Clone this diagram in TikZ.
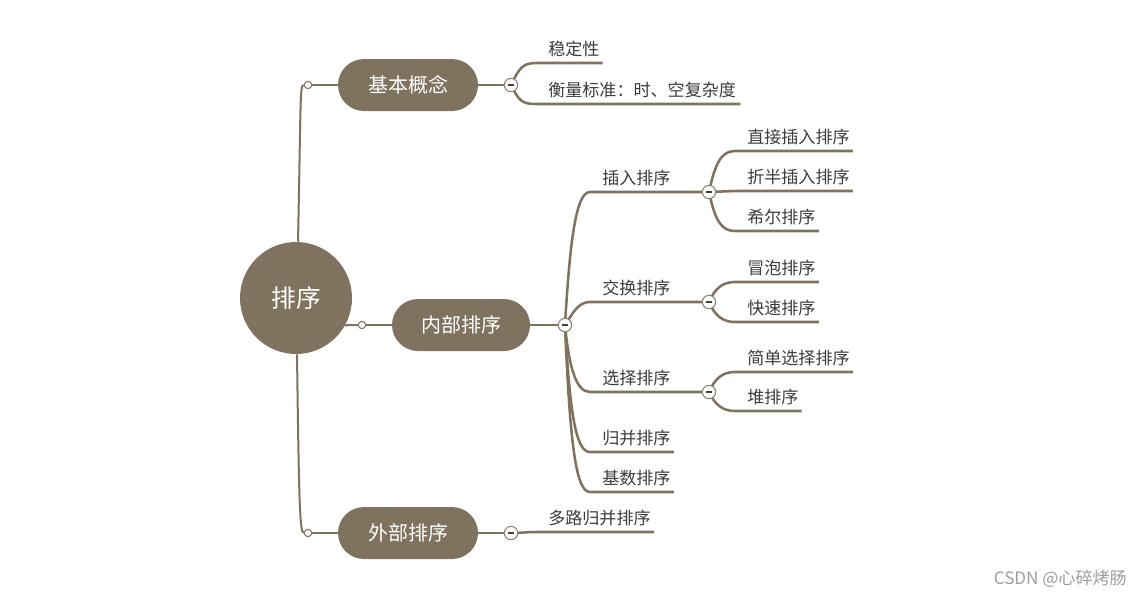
\documentclass[tikz,border=0pt]{standalone}
\usepackage{fontspec}
\setmainfont{Noto Sans CJK SC}
\usetikzlibrary{calc,backgrounds}
\definecolor{brn}{HTML}{7F7360}
\definecolor{txt}{HTML}{3C3C3C}
\definecolor{mb}{HTML}{8C8272}
\tikzset{
  rootnode/.style={circle,fill=brn,text=white,minimum size=84pt,inner sep=0pt,font=\fontsize{18.5pt}{20pt}\selectfont},
  topic/.style={rectangle,rounded corners=19.5pt,fill=brn,text=white,minimum width=105pt,minimum height=39pt,inner sep=0pt,font=\fontsize{15pt}{17pt}\selectfont},
  dot/.style={circle,draw=brn,fill=white,line width=0.8pt,minimum size=5.5pt,inner sep=0pt},
  minus/.style={circle,draw=mb,fill=white,line width=0.8pt,minimum size=10pt,inner sep=0pt,
    path picture={\draw[line width=1.2pt,black!75] ([xshift=-2.6pt]path picture bounding box.center) -- ([xshift=2.6pt]path picture bounding box.center);}},
  leaf/.style={anchor=base west,inner sep=0pt,text=txt,font=\fontsize{12.8pt}{14pt}\selectfont},
  conn/.style={draw=brn,line width=1.5pt},
  ul/.style={draw=brn,line width=1.9pt},
}
\begin{document}
\begin{tikzpicture}[x=0.75pt,y=-0.75pt]
\useasboundingbox (0,0) rectangle (1140,597);
% main nodes
\node[rootnode] (root) at (296,298) {排序};
\node[topic] (b1) at (408,85) {基本概念};
\node[topic,minimum width=103.5pt] (b2) at (461,325) {内部排序};
\node[topic] (b3) at (408,533) {外部排序};
\node[dot] (d1) at (308,85) {};
\node[dot] (d2) at (362,325) {};
\node[dot] (d3) at (308,533) {};
\node[minus] (m1) at (511,85) {};
\node[minus] (m2) at (565,325) {};
\node[minus] (m3) at (511,533) {};
\node[minus] (m21) at (709,192) {};
\node[minus] (m22) at (709,302) {};
\node[minus] (m23) at (709,392) {};
% leaves
\node[leaf] (l11) at (548,55.5) {稳定性};
\node[leaf] (l12) at (548,96.5) {衡量标准：时、空复杂度};
\node[leaf] (l21) at (602,184.5) {插入排序};
\node[leaf] (l22) at (602,294.5) {交换排序};
\node[leaf] (l23) at (602,384.5) {选择排序};
\node[leaf] (l24) at (602,444.5) {归并排序};
\node[leaf] (l25) at (602,484.5) {基数排序};
\node[leaf] (l211) at (747,143.5) {直接插入排序};
\node[leaf] (l212) at (747,183.5) {折半插入排序};
\node[leaf] (l213) at (747,223.5) {希尔排序};
\node[leaf] (l221) at (747,274.5) {冒泡排序};
\node[leaf] (l222) at (747,314.5) {快速排序};
\node[leaf] (l231) at (747,364.5) {简单选择排序};
\node[leaf] (l232) at (747,403.5) {堆排序};
\node[leaf] (l31) at (548,524.5) {多路归并排序};
\node[anchor=east,inner sep=0pt,text=black!38,font=\fontsize{12.8pt}{14pt}\selectfont] (wm) at (1127,579) {CSDN @心碎烤肠};
% connectors
\begin{scope}[on background layer]
  % root level
  \draw[conn] ($(root.north)+(2,0)$) .. controls +(3,-145) and +(-4,0) .. (d1.west);
  \draw[conn] ($(root.south)+(1,0)$) .. controls +(2,150) and +(-4,0) .. (d3.west);
  \draw[conn] (root.-29) -- (d2.west);
  \draw[conn] (d1.east) -- (b1.west);
  \draw[conn] (d2.east) -- (b2.west);
  \draw[conn] (d3.east) -- (b3.west);
  \draw[conn] (b1.east) -- (m1.west);
  \draw[conn] (b2.east) -- (m2.west);
  \draw[conn] (b3.east) -- (m3.west);
  % 基本概念
  \draw[ul] (m1.center) .. controls +(8,-16) and +(-14,0) .. ($(l11.base west)+(-12,7.5)$) -- ($(l11.base east)+(3,7.5)$);
  \draw[ul] (m1.center) .. controls +(8,16) and +(-14,0) .. ($(l12.base west)+(-12,7.5)$) -- ($(l12.base east)+(4,7.5)$);
  % 外部排序
  \draw[ul] (m3.center) .. controls +(10,0) and +(-10,0) .. ($(l31.base west)+(-12,7.5)$) -- ($(l31.base east)+(3,7.5)$);
  % 内部排序
  \draw[ul] (m2.center) .. controls +(5,-85) and +(-14,0) .. ($(l21.base west)+(-12,7.5)$) -- (m21.west);
  \draw[ul] (m2.center) .. controls +(8,-12) and +(-12,0) .. ($(l22.base west)+(-12,7.5)$) -- (m22.west);
  \draw[ul] (m2.center) .. controls +(4,42) and +(-14,0) .. ($(l23.base west)+(-12,7.5)$) -- (m23.west);
  \draw[ul] (m2.center) .. controls +(5,90) and +(-14,0) .. ($(l24.base west)+(-12,7.5)$) -- ($(l24.base east)+(3,7.5)$);
  \draw[ul] (m2.center) .. controls +(5,120) and +(-14,0) .. ($(l25.base west)+(-12,7.5)$) -- ($(l25.base east)+(3,7.5)$);
  % 插入排序
  \draw[ul] (m21.center) .. controls +(6,-28) and +(-14,0) .. ($(l211.base west)+(-12,7.5)$) -- ($(l211.base east)+(3,7.5)$);
  \draw[ul] (m21.center) -- ($(l212.base west)+(-12,7.5)$) -- ($(l212.base east)+(3,7.5)$);
  \draw[ul] (m21.center) .. controls +(6,28) and +(-14,0) .. ($(l213.base west)+(-12,7.5)$) -- ($(l213.base east)+(3,7.5)$);
  % 交换排序
  \draw[ul] (m22.center) .. controls +(6,-14) and +(-12,0) .. ($(l221.base west)+(-12,7.5)$) -- ($(l221.base east)+(3,7.5)$);
  \draw[ul] (m22.center) .. controls +(6,14) and +(-12,0) .. ($(l222.base west)+(-12,7.5)$) -- ($(l222.base east)+(3,7.5)$);
  % 选择排序
  \draw[ul] (m23.center) .. controls +(6,-14) and +(-12,0) .. ($(l231.base west)+(-12,7.5)$) -- ($(l231.base east)+(3,7.5)$);
  \draw[ul] (m23.center) .. controls +(6,13) and +(-12,0) .. ($(l232.base west)+(-12,7.5)$) -- ($(l232.base east)+(3,7.5)$);
\end{scope}
\end{tikzpicture}
\end{document}
